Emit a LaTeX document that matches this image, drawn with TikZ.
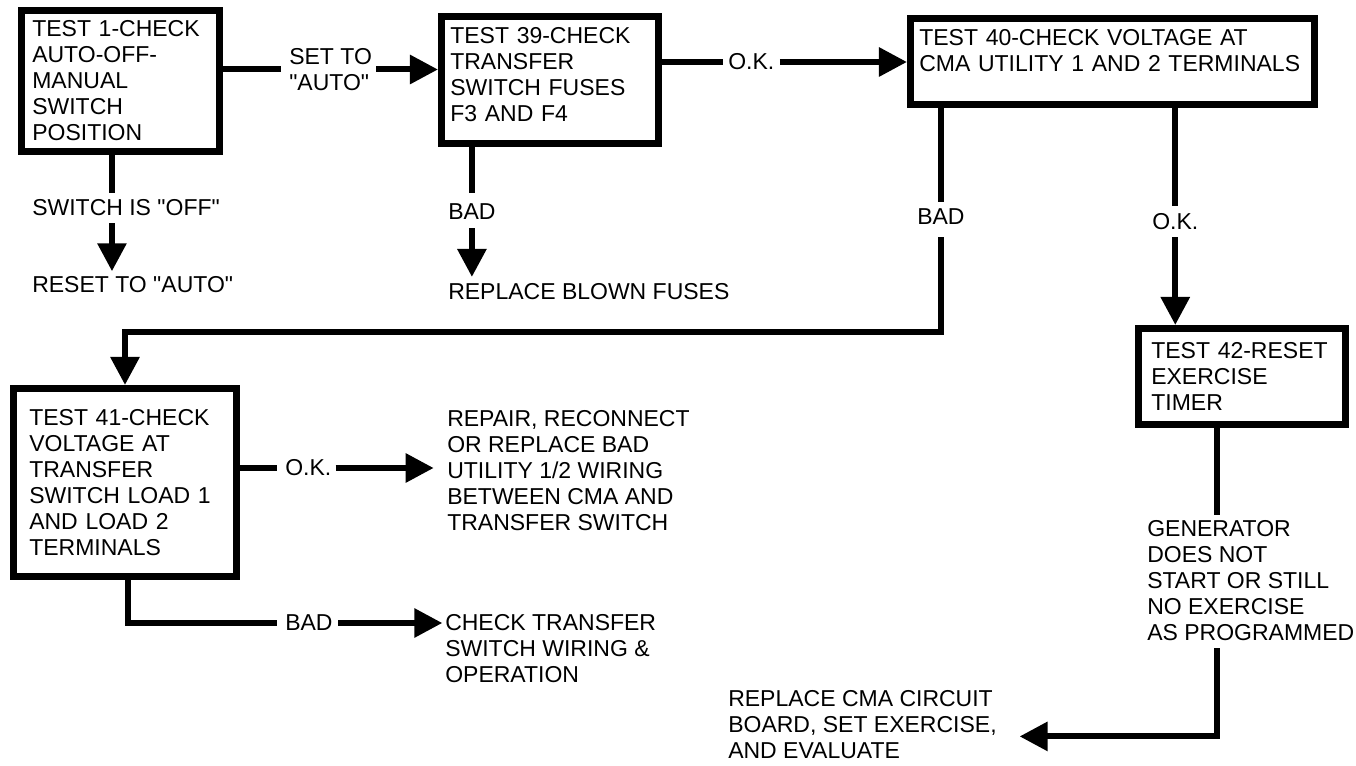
\documentclass[tikz,border=0pt]{standalone}
\usepackage{fontspec}
\setmainfont{Liberation Sans}
\usetikzlibrary{arrows.meta}
\tikzset{
  tbox/.style n args={4}{draw, line width=5pt, minimum width=#1, minimum height=#2, text width=#3, inner xsep=#4, align=left},
  lbl/.style={inner sep=0pt, anchor=west, align=left},
  conn/.style={line width=4.5pt},
  arr/.style={line width=4.5pt, -{Triangle[length=21pt,width=21pt]}},
}
\newcommand{\qd}{\textquotedbl}

\begin{document}
\begin{tikzpicture}[x=0.75pt,y=0.75pt,yscale=-1,xscale=1,font=\fontsize{17.25}{19.5}\selectfont]
\useasboundingbox (0,0) rectangle (1356,766);

% Test Boxes
\node (box1) at (120.5,81) [tbox={148.8pt}{106.05pt}{132.3pt}{8.25pt}] {TEST 1-CHECK\\AUTO-OFF-\\MANUAL\\SWITCH\\POSITION};
\node (box2) at (550,80) [tbox={163.05pt}{95.55pt}{149.55pt}{6.75pt}, text depth=67.5pt] {TEST 39-CHECK\\TRANSFER\\SWITCH FUSES\\F3 AND F4};
\node (box3) at (1112.5,61.5) [tbox={303.3pt}{64.8pt}{289.8pt}{6.75pt}, text depth=36.75pt] {TEST 40-CHECK VOLTAGE AT\\CMA UTILITY 1 AND 2 TERMINALS};
\node (box4) at (125,482.5) [tbox={167.55pt}{141.3pt}{143.55pt}{12pt}] {TEST 41-CHECK\\VOLTAGE AT\\TRANSFER\\SWITCH LOAD 1\\AND LOAD 2\\TERMINALS};
\node (box5) at (1242,376.5) [tbox={155.55pt}{72.3pt}{136.05pt}{9.75pt}] {TEST 42-RESET\\EXERCISE\\TIMER};

% Text Node
\node (setto) at (289,69.5) [lbl] {SET TO\\\qd AUTO\qd};
\node (swoff) at (32,208) [lbl] {SWITCH IS \qd OFF\qd};
\node (reset) at (32,285) [lbl] {RESET TO \qd AUTO\qd};
\node (ok1) at (728,62) [lbl] {O.K.};
\node (bad1) at (448,212) [lbl] {BAD};
\node (blown) at (448,292) [lbl] {REPLACE BLOWN FUSES};
\node (bad2) at (917,217) [lbl] {BAD};
\node (ok2) at (1152,222) [lbl] {O.K.};
\node (ok3) at (285,468) [lbl] {O.K.};
\node (repair) at (447,471) [lbl] {REPAIR, RECONNECT\\OR REPLACE BAD\\UTILITY 1/2 WIRING\\BETWEEN CMA AND\\TRANSFER SWITCH};
\node (bad3) at (285,623) [lbl] {BAD};
\node (checkts) at (445,649) [lbl] {CHECK TRANSFER\\SWITCH WIRING \&\\OPERATION};
\node (gen) at (1147,581) [lbl] {GENERATOR\\DOES NOT\\START OR STILL\\NO EXERCISE\\AS PROGRAMMED};
\node (replcma) at (728,725) [lbl] {REPLACE CMA CIRCUIT\\BOARD, SET EXERCISE,\\AND EVALUATE};

\coordinate (c1) at ([xshift=-6.4pt]box1.south);
\coordinate (c4) at ([xshift=2pt]box4.south);
\coordinate (c5) at ([xshift=-18.75pt]box5.south);

%Straight Lines
\draw [conn, shorten >=6pt] (box1.east |- setto.west) -- (setto.west);
\draw [arr, shorten <=3pt] (setto.east) -- (setto.east -| box2.west);
\draw [conn, shorten >=5pt] (c1) -- (c1 |- swoff.north);
\draw [arr, shorten <=5pt, shorten >=4pt] (c1 |- swoff.south) -- (c1 |- reset.north);
%Straight Lines
\draw [conn, shorten >=4pt] (box2.east |- ok1.west) -- (ok1.west);
\draw [arr, shorten <=4pt] (ok1.east) -- (ok1.east -| box3.west);
\draw [conn, shorten >=8pt] (bad1.north |- box2.south) -- (bad1.north);
\draw [arr, shorten <=6pt, shorten >=5pt] (bad1.south) -- (bad1.south |- blown.north);
%Straight Lines
\draw [conn, shorten >=5pt] (bad2.north |- box3.south) -- (bad2.north);
\draw [arr, shorten <=9pt] (bad2.south) -- ++(0,107) -| (box4.north);
\draw [conn, shorten >=6pt] (ok2.north |- box3.south) -- (ok2.north);
\draw [arr, shorten <=5pt] (ok2.south) -- (ok2.south |- box5.north);
%Straight Lines
\draw [conn, shorten >=6pt] (box4.east |- ok3.west) -- (ok3.west);
\draw [arr, shorten <=3pt, shorten >=10pt] (ok3.east) -- (ok3.east -| repair.west);
\draw [conn, shorten >=6pt] (c4) |- (bad3.west);
\draw [arr, shorten <=4pt, shorten >=2pt] (bad3.east) -- (bad3.east -| checkts.west);
%Straight Lines
\draw [conn, shorten >=4pt] (c5) -- (c5 |- gen.north);
\draw [arr, shorten <=5pt, shorten >=17pt] (c5 |- gen.south) -- ++(0,95) coordinate (c6) -- (c6 -| replcma.east);

\end{tikzpicture}
\end{document}
